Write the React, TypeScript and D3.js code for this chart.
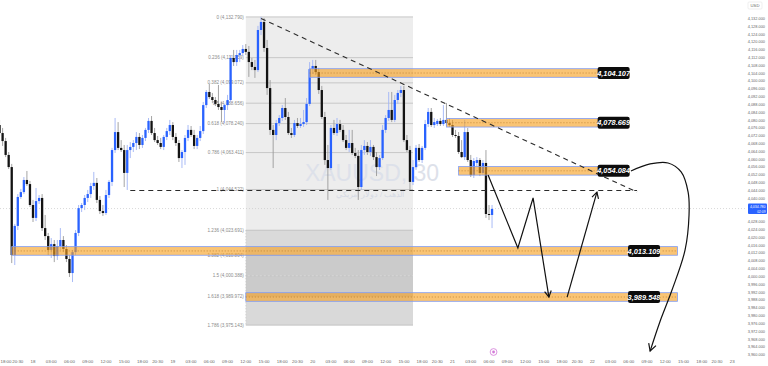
import React from "react";
import * as d3 from "d3";

const W = 768;
const H = 366;

// XAUUSD 30m candles: [open, high, low, close]
const candles: number[][] = [
  [4077.5, 4080.1, 4071.9, 4073.4], [4073.4, 4076.0, 4066.8, 4069.3], [4069.3, 4070.9, 4061.1, 4062.2],
  [4062.2, 4063.7, 4055.0, 4056.0], [4056.0, 4057.6, 4006.9, 4011.0], [4011.0, 4026.9, 4005.9, 4025.9],
  [4025.9, 4042.2, 4023.8, 4040.7], [4040.7, 4044.8, 4039.7, 4043.2], [4043.2, 4050.9, 4042.2, 4049.4],
  [4049.4, 4054.0, 4046.3, 4047.3], [4047.3, 4048.9, 4035.6, 4036.6], [4036.6, 4039.2, 4027.9, 4030.0],
  [4030.0, 4045.3, 4028.4, 4038.6], [4038.6, 4041.7, 4037.1, 4040.2], [4040.2, 4042.2, 4023.3, 4024.8],
  [4024.8, 4031.5, 4018.7, 4020.7], [4020.7, 4022.3, 4011.0, 4013.6], [4013.6, 4019.7, 4009.5, 4016.6],
  [4016.6, 4018.7, 4007.4, 4010.5], [4010.5, 4018.7, 4008.5, 4015.6], [4015.6, 4024.8, 4013.6, 4018.7],
  [4018.7, 4020.7, 4012.5, 4014.1], [4014.1, 4016.1, 4007.4, 4009.0], [4009.0, 4011.0, 3999.8, 4001.8],
  [4001.8, 4013.6, 3997.2, 4012.5], [4012.5, 4023.8, 4011.0, 4022.3], [4022.3, 4036.6, 4020.7, 4035.0],
  [4035.0, 4037.6, 4033.0, 4036.6], [4036.6, 4041.7, 4034.0, 4040.2], [4040.2, 4044.3, 4038.1, 4042.2],
  [4042.2, 4047.9, 4040.2, 4046.3], [4046.3, 4053.5, 4044.3, 4047.9], [4047.9, 4050.4, 4037.6, 4039.2],
  [4039.2, 4041.2, 4032.0, 4033.5], [4033.5, 4036.6, 4031.0, 4032.5], [4032.5, 4044.3, 4031.5, 4041.7],
  [4041.7, 4049.4, 4040.2, 4048.4], [4048.4, 4065.8, 4046.3, 4064.7], [4064.7, 4081.1, 4063.2, 4073.9],
  [4073.9, 4079.0, 4064.7, 4065.8], [4065.8, 4069.8, 4063.7, 4064.7], [4064.7, 4067.3, 4045.8, 4053.0],
  [4053.0, 4067.3, 4044.3, 4064.7], [4064.7, 4068.8, 4060.6, 4066.3], [4066.3, 4069.8, 4063.7, 4068.3],
  [4068.3, 4073.9, 4064.7, 4071.4], [4071.4, 4073.4, 4065.2, 4067.3], [4067.3, 4072.4, 4065.8, 4070.9],
  [4070.9, 4076.0, 4069.3, 4075.0], [4075.0, 4081.1, 4073.4, 4079.6], [4079.6, 4082.1, 4072.4, 4073.4],
  [4073.4, 4076.0, 4068.8, 4069.8], [4069.8, 4071.9, 4067.3, 4068.3], [4068.3, 4070.9, 4065.2, 4066.3],
  [4066.3, 4072.4, 4064.7, 4071.4], [4071.4, 4076.0, 4069.8, 4074.4], [4074.4, 4080.1, 4072.4, 4077.5],
  [4077.5, 4079.0, 4069.8, 4071.4], [4071.4, 4073.4, 4066.8, 4068.3], [4068.3, 4069.8, 4058.6, 4060.6],
  [4060.6, 4064.7, 4055.5, 4063.7], [4063.7, 4072.4, 4057.1, 4070.9], [4070.9, 4077.5, 4069.3, 4075.0],
  [4075.0, 4077.0, 4071.4, 4072.4], [4072.4, 4075.0, 4065.2, 4066.8], [4066.8, 4072.4, 4065.2, 4070.9],
  [4070.9, 4077.0, 4069.3, 4074.4], [4074.4, 4089.3, 4072.9, 4087.7], [4087.7, 4095.4, 4086.2, 4094.4],
  [4094.4, 4098.5, 4090.8, 4091.8], [4091.8, 4093.9, 4088.8, 4090.3], [4090.3, 4091.8, 4087.2, 4088.3],
  [4088.3, 4098.0, 4085.2, 4086.7], [4086.7, 4089.3, 4079.0, 4085.2], [4085.2, 4088.3, 4078.5, 4087.7],
  [4087.7, 4092.9, 4085.2, 4090.3], [4090.3, 4113.3, 4089.3, 4111.8], [4111.8, 4115.9, 4107.7, 4109.7],
  [4109.7, 4115.9, 4107.7, 4113.3], [4113.3, 4115.9, 4109.7, 4114.3], [4114.3, 4118.4, 4112.8, 4116.4],
  [4116.4, 4118.9, 4113.3, 4114.9], [4114.9, 4117.9, 4102.1, 4109.7], [4109.7, 4111.8, 4105.6, 4107.2],
  [4107.2, 4110.8, 4101.6, 4105.6], [4105.6, 4128.2, 4104.6, 4126.1], [4126.1, 4132.8, 4123.5, 4130.2],
  [4130.2, 4132.2, 4114.9, 4116.9], [4116.9, 4121.0, 4092.9, 4096.4], [4096.4, 4100.5, 4072.4, 4075.0],
  [4075.0, 4077.5, 4055.5, 4072.4], [4072.4, 4080.1, 4069.8, 4078.5], [4078.5, 4082.6, 4077.0, 4081.1],
  [4081.1, 4087.7, 4079.6, 4086.2], [4086.2, 4091.3, 4080.1, 4081.6], [4081.6, 4084.2, 4072.4, 4073.4],
  [4073.4, 4076.0, 4070.9, 4072.4], [4072.4, 4080.1, 4071.4, 4078.5], [4078.5, 4081.1, 4076.0, 4077.0],
  [4077.0, 4081.1, 4076.0, 4078.0], [4078.0, 4085.2, 4076.5, 4079.0], [4079.0, 4091.3, 4077.5, 4088.3],
  [4088.3, 4109.7, 4087.2, 4106.1], [4106.1, 4110.8, 4103.6, 4107.7], [4107.7, 4110.8, 4103.1, 4104.6],
  [4104.6, 4106.7, 4093.4, 4095.4], [4095.4, 4097.5, 4080.6, 4081.6], [4081.6, 4084.2, 4057.1, 4059.6],
  [4059.6, 4067.3, 4039.2, 4055.5], [4055.5, 4077.5, 4054.5, 4076.0], [4076.0, 4080.1, 4072.4, 4073.4],
  [4073.4, 4081.1, 4071.9, 4078.0], [4078.0, 4080.1, 4073.9, 4075.0], [4075.0, 4077.5, 4068.8, 4069.8],
  [4069.8, 4072.4, 4064.7, 4065.8], [4065.8, 4075.0, 4063.7, 4068.3], [4068.3, 4075.0, 4062.2, 4063.2],
  [4063.2, 4065.8, 4060.6, 4061.7], [4061.7, 4064.7, 4039.2, 4045.8], [4045.8, 4067.3, 4044.3, 4064.7],
  [4064.7, 4069.8, 4062.2, 4066.8], [4066.8, 4068.8, 4062.2, 4063.7], [4063.7, 4069.8, 4061.7, 4066.3],
  [4066.3, 4067.3, 4059.6, 4061.1], [4061.1, 4063.7, 4051.4, 4056.0], [4056.0, 4062.2, 4054.5, 4060.6],
  [4060.6, 4077.5, 4059.6, 4075.0], [4075.0, 4082.6, 4073.4, 4081.1], [4081.1, 4094.4, 4079.6, 4085.2],
  [4085.2, 4094.4, 4079.0, 4080.1], [4080.1, 4092.9, 4079.0, 4090.3], [4090.3, 4095.4, 4088.3, 4093.9],
  [4093.9, 4097.5, 4091.8, 4095.4], [4095.4, 4097.5, 4068.8, 4069.8], [4069.8, 4072.4, 4063.7, 4064.7],
  [4064.7, 4066.8, 4044.3, 4048.4], [4048.4, 4059.6, 4046.8, 4056.0], [4056.0, 4067.3, 4054.5, 4065.8],
  [4065.8, 4067.8, 4058.6, 4059.6], [4059.6, 4066.8, 4058.1, 4065.8], [4065.8, 4080.1, 4064.7, 4078.0],
  [4078.0, 4086.2, 4076.5, 4084.2], [4084.2, 4086.2, 4076.5, 4077.5], [4077.5, 4081.1, 4076.0, 4079.0],
  [4078.0, 4080.6, 4077.0, 4079.6], [4079.6, 4081.1, 4077.0, 4078.0], [4078.0, 4087.7, 4077.0, 4080.1],
  [4080.1, 4088.8, 4077.0, 4078.5], [4078.5, 4081.1, 4076.5, 4077.5], [4077.5, 4080.1, 4071.4, 4072.4],
  [4072.4, 4075.0, 4070.9, 4071.9], [4071.9, 4073.9, 4062.7, 4063.7], [4063.7, 4069.8, 4060.6, 4061.1],
  [4061.1, 4080.1, 4059.6, 4073.9], [4073.9, 4076.0, 4058.6, 4059.6], [4059.6, 4062.2, 4050.9, 4051.9],
  [4051.9, 4060.6, 4050.4, 4059.1], [4058.1, 4061.1, 4056.5, 4059.6], [4059.6, 4060.6, 4051.4, 4053.0],
  [4053.0, 4059.6, 4051.9, 4058.1], [4058.1, 4064.7, 4030.0, 4032.0], [4032.0, 4036.6, 4028.9, 4031.5],
  [4031.5, 4036.6, 4024.8, 4034.6],
];

const lastPrice = 4034.78;

// supply / demand zones
const zoneLevels = [4104.107, 4078.669, 4054.084, 4013.109, 3989.548];
const zoneStart = [102, 147, 151, 4, 81];
const zoneEnd = [199, 199, 199, 223, 223];
const zoneLabelAt = [202, 202, 202, 212, 212];
const zoneHalf = 2.2;

// fib retracement
const fibRatios = [0, 0.236, 0.382, 0.5, 0.618, 0.786, 1, 1.236, 1.382, 1.5, 1.618, 1.786];
const fibFills = ["#ededed", "#ededed", "#ededed", "#ededed", "#ededed", "#ededed", "#ededed", "#dadada", "#cbcbcb", "#cbcbcb", "#d9d9d9"];
const fibHigh = 4132.79;
const fibLow = 4044.522;
const fibFrom = 81;
const fibTo = 136;

// drawings  [candle index, price]
const trendLine = [[86, 4132.0], [209.7, 4043.2]];
const baseLine = [[43, 4044.0], [209.7, 4044.0]];
const pathDown = [[160.7, 4051.9], [170.5, 4014.6], [175.5, 4040.2], [180.7, 3989.5]];
const pathUp = [[186.7, 3989.5], [196.5, 4043.2]];
const bigCurve = [
  [207.7, 4054.0], [214.0, 4057.6], [219.9, 4058.1], [224.2, 4053.5], [226.5, 4043.2],
  [226.8, 4031.5], [225.5, 4013.6], [221.2, 3993.1], [217.2, 3976.8], [214.0, 3961.9],
];

const timeLabels = [
  "18:00", "20:30", "18", "03:00", "06:00", "09:00", "12:00", "15:00", "18:00", "20:30",
  "19", "03:00", "06:00", "09:00", "12:00", "15:00", "18:00", "20:30",
  "20", "03:00", "06:00", "09:00", "12:00", "15:00", "18:00", "20:30",
  "21", "03:00", "06:00", "09:00", "12:00", "15:00", "18:00", "20:30",
  "22", "03:00", "06:00", "09:00", "12:00", "15:00", "18:00", "20:30", "23",
];
const timeLabelIdx = [
  1, 6, 11, 17, 23, 29, 35, 41, 47, 52,
  57, 63, 69, 75, 81, 87, 93, 98,
  103, 109, 115, 121, 127, 133, 139, 144,
  149, 155, 161, 167, 173, 179, 185, 190,
  195, 201, 207, 213, 219, 225, 231, 236, 241,
];

const x = d3.scaleLinear().domain([0, 250]).range([-0.44, -0.44 + 3.04 * 250]);
const y = d3.scaleLinear().domain([4104.107, 3989.548]).range([73, 297]);
const fmt = d3.format(",.3f");
const FONT = "'Liberation Sans', Arial, sans-serif";

const BULL = "#2962ff";
const BEAR = "#131313";

function arrowHead(from: number[], to: number[], len = 7) {
  const x1 = x(from[0]), y1 = y(from[1]);
  const x2 = x(to[0]), y2 = y(to[1]);
  const a = Math.atan2(y2 - y1, x2 - x1);
  const w1 = [x2 - len * Math.cos(a - 0.5), y2 - len * Math.sin(a - 0.5)];
  const w2 = [x2 - len * Math.cos(a + 0.5), y2 - len * Math.sin(a + 0.5)];
  return `M${w1[0]},${w1[1]}L${x2},${y2}L${w2[0]},${w2[1]}`;
}

export default function App() {
  const line = d3.line<number[]>().x((d) => x(d[0])).y((d) => y(d[1]));
  const curveLine = d3.line<number[]>().x((d) => x(d[0])).y((d) => y(d[1])).curve(d3.curveCatmullRom);
  const fibPrice = (r: number) => fibHigh - r * (fibHigh - fibLow);
  // axis ticks every 4, hidden where the last-price tag sits
  const priceTicks = d3.range(3960, 4133, 4).filter((p) => Math.abs(y(p) - y(lastPrice)) > 6.5);

  return (
    <svg width={W} height={H} style={{ position: "absolute", left: 0, top: 0, background: "#fff" }} fontFamily={FONT}>
      {/* fib bands */}
      {fibFills.map((c, k) => (
        <rect key={"fb" + k} x={x(fibFrom)} width={x(fibTo) - x(fibFrom)}
          y={y(fibPrice(fibRatios[k]))} height={y(fibPrice(fibRatios[k + 1])) - y(fibPrice(fibRatios[k]))} fill={c} />
      ))}
      <line x1={x(fibFrom)} x2={x(fibFrom)} y1={y(fibPrice(1.236))} y2={y(fibPrice(1.786))} stroke="#bbb" strokeWidth={0.6} strokeDasharray="1,2" />
      {fibRatios.map((r) => (
        <g key={"fl" + r}>
          <line x1={x(fibFrom)} x2={x(fibTo)} y1={y(fibPrice(r))} y2={y(fibPrice(r))}
            stroke={r === 1.5 ? "#bdbdbd" : "#b5b5b5"} strokeWidth={0.7} strokeDasharray={r === 1.5 ? "2,2" : undefined} />
          <text x={x(fibFrom) - 2} y={y(fibPrice(r)) + 1.6} fontSize={4.6} fill="#8a8a8a" textAnchor="end">
            {`${r} (${fmt(fibPrice(r))})`}
          </text>
        </g>
      ))}

      {/* watermark */}
      <text x={372} y={181} fontSize={23} fill="#dde1ea" textAnchor="middle">XAUUSD, 30</text>
      <text x={370} y={197} fontSize={7.5} fill="#d6dae4" textAnchor="middle" direction="rtl">الذهب / دولار أمريكي</text>

      {/* last price line */}
      <line x1={0} x2={745} y1={y(lastPrice)} y2={y(lastPrice)} stroke="#c8c8c8" strokeWidth={0.7} strokeDasharray="1,2" />

      {/* candles */}
      {candles.map((c, i) => {
        const [o, h, l, cl] = c;
        const up = cl >= o;
        const top = y(Math.max(o, cl));
        const bh = Math.max(1, y(Math.min(o, cl)) - top);
        return (
          <g key={"c" + i}>
            <line x1={x(i)} x2={x(i)} y1={y(h)} y2={y(l)} stroke={up ? "#9fb3f5" : "#9a9a9a"} strokeWidth={0.9} />
            <rect x={x(i) - 1.15} width={2.3} y={top} height={bh} fill={up ? BULL : BEAR} />
          </g>
        );
      })}

      {/* zones */}
      {zoneLevels.map((p, k) => (
        <g key={"z" + k}>
          <rect x={x(zoneStart[k])} width={x(zoneEnd[k]) - x(zoneStart[k])} y={y(p + zoneHalf)} height={y(p - zoneHalf) - y(p + zoneHalf)}
            fill="rgba(247,160,30,0.62)" stroke="#7f9cf5" strokeWidth={0.8} />
          <line x1={x(zoneStart[k])} x2={x(zoneEnd[k])} y1={y(p)} y2={y(p)} stroke="#b0762a" strokeWidth={0.7} strokeDasharray="1,2" />
        </g>
      ))}

      {/* dashed lines */}
      <path d={line(trendLine) || ""} stroke="#2b2b2b" strokeWidth={1.1} strokeDasharray="5,4" fill="none" />
      <path d={line(baseLine) || ""} stroke="#2b2b2b" strokeWidth={1.1} strokeDasharray="5,4" fill="none" />

      {/* projected path */}
      <path d={line(pathDown) || ""} stroke="#111" strokeWidth={1.2} fill="none" />
      <path d={arrowHead(pathDown[2], pathDown[3])} stroke="#111" strokeWidth={1.2} fill="none" />
      <path d={line(pathUp) || ""} stroke="#111" strokeWidth={1.2} fill="none" />
      <path d={arrowHead(pathUp[0], pathUp[1])} stroke="#111" strokeWidth={1.2} fill="none" />
      <path d={curveLine(bigCurve) || ""} stroke="#111" strokeWidth={1.2} fill="none" />
      <path d={arrowHead(bigCurve[bigCurve.length - 2], bigCurve[bigCurve.length - 1], 8)} stroke="#111" strokeWidth={1.2} fill="none" />

      {/* zone labels */}
      {zoneLevels.map((p, k) => (
        <g key={"zl" + k}>
          <rect x={x(zoneLabelAt[k]) - 16} y={y(p) - 6} width={32} height={12} rx={2} fill="#0c0c0c" />
          <text x={x(zoneLabelAt[k])} y={y(p) + 2.6} fontSize={7.4} fontWeight="bold" fontStyle="italic" fill="#fff" textAnchor="middle">
            {fmt(p)}
          </text>
        </g>
      ))}

      {/* price axis */}
      <rect x={748} y={2} width={14} height={7} fill="none" stroke="#ddd" strokeWidth={0.5} rx={1} />
      <text x={755} y={7} fontSize={4.2} fill="#666" textAnchor="middle">USD</text>
      {priceTicks.map((p) => (
        <text key={"pt" + p} x={765} y={y(p) + 1.4} fontSize={3.9} fill="#666" textAnchor="end">{fmt(p)}</text>
      ))}
      <rect x={748} y={y(lastPrice) - 5} width={19} height={10.5} fill={BULL} rx={1} />
      <text x={765.5} y={y(lastPrice) - 0.9} fontSize={3.5} fill="#fff" textAnchor="end">{fmt(lastPrice)}</text>
      <text x={765.5} y={y(lastPrice) + 4} fontSize={3.3} fill="#fff" textAnchor="end">02:09</text>

      {/* time axis */}
      {timeLabels.map((t, k) => {
        const tx = x(timeLabelIdx[k]);
        const atEdge = tx < 8;
        return (
          <text key={"tl" + k} x={atEdge ? 0.5 : tx} y={363} fontSize={4.4} fill="#666" textAnchor={atEdge ? "start" : "middle"}>{t}</text>
        );
      })}
      <circle cx={x(162.5)} cy={352} r={3.4} fill="none" stroke="#d37ad8" strokeWidth={0.8} />
      <circle cx={x(162.5)} cy={352} r={1.4} fill="#d37ad8" />
    </svg>
  );
}
